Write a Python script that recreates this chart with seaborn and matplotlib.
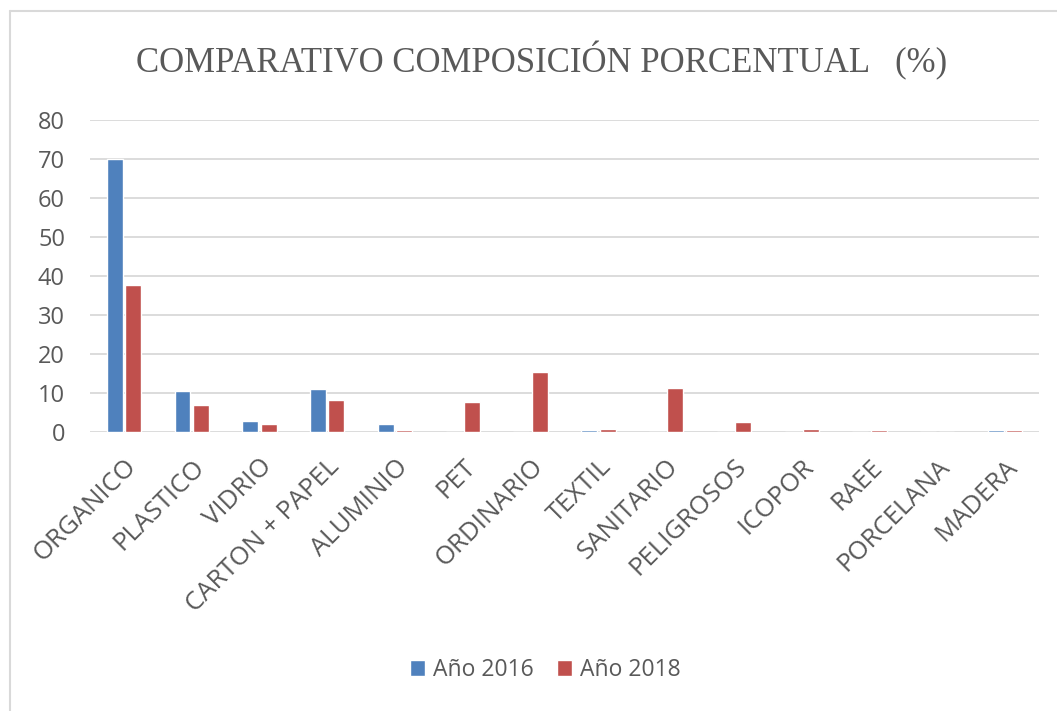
import pandas as pd
import matplotlib.pyplot as plt
import seaborn as sns
from matplotlib.lines import Line2D

# Categories and values
categorias = ['ORGANICO', 'PLASTICO', 'VIDRIO', 'CARTON + PAPEL', 'ALUMINIO', 'PET',
              'ORDINARIO', 'TEXTIL', 'SANITARIO', 'PELIGROSOS', 'ICOPOR', 'RAEE',
              'PORCELANA', 'MADERA']
anio_2016 = [70.0, 10.5, 2.8, 10.9, 2.0, 0.0, 0.0, 0.5, 0.0, 0.0, 0.0, 0.0, 0.0, 0.5]
anio_2018 = [37.8, 6.9, 2.0, 8.1, 0.6, 7.7, 15.3, 0.8, 11.3, 2.6, 0.8, 0.5, 0.0, 0.5]
series = ['Año 2016', 'Año 2018']

df = pd.DataFrame({'categoria': categorias * 2,
                   'valor': anio_2016 + anio_2018,
                   'serie': [series[0]] * len(categorias) + [series[1]] * len(categorias)})

sns.set_style('white')
plt.rcParams['font.family'] = ['Open Sans', 'DejaVu Sans']

fig = plt.figure(figsize=(10.57, 7.11), dpi=100)
ax = fig.add_axes([90 / 1057, 1 - 432 / 711, (1039 - 90) / 1057, (432 - 120) / 711])

sns.barplot(data=df, x='categoria', y='valor', hue='serie', order=categorias,
            palette=['#4F81BD', '#C0504D'], saturation=1, width=0.54, gap=0.13,
            ax=ax, zorder=3)

ax.set_ylim(0, 80)
ax.set_yticks(range(0, 81, 10))
ax.grid(axis='y', color='#D9D9D9', linewidth=1.3, zorder=0)
for s in ax.spines.values():
    s.set_visible(False)
ax.set_xlabel('')
ax.set_ylabel('')
ax.tick_params(axis='y', labelsize=17, colors='#595959', length=0, pad=18)
ax.tick_params(axis='x', labelsize=18.5, colors='#595959', length=0, pad=16)
plt.setp(ax.get_xticklabels(), rotation=45, ha='right', rotation_mode='anchor')

leg = ax.legend(loc='center', bbox_to_anchor=(0.48, (432 - 670) / (432 - 120)),
                ncol=2, frameon=False, fontsize=16.5, handlelength=0.65, handleheight=0.75,
                handletextpad=0.35, columnspacing=1.0)
for t in leg.get_texts():
    t.set_color('#595959')

fig.text(0.512, 1 - 61 / 711, 'COMPARATIVO COMPOSICIÓN PORCENTUAL   (%)',
         ha='center', va='center', fontsize=25, color='#595959',
         family=['Liberation Serif', 'DejaVu Serif'])

# chart area border (top and left)
fig.add_artist(Line2D([10 / 1057, 10 / 1057], [0, 1 - 11 / 711], transform=fig.transFigure,
                      color='#D9D9D9', linewidth=1.5))
fig.add_artist(Line2D([10 / 1057, 1], [1 - 11 / 711, 1 - 11 / 711], transform=fig.transFigure,
                      color='#D9D9D9', linewidth=1.5))

fig.savefig('out.png', dpi=100)
